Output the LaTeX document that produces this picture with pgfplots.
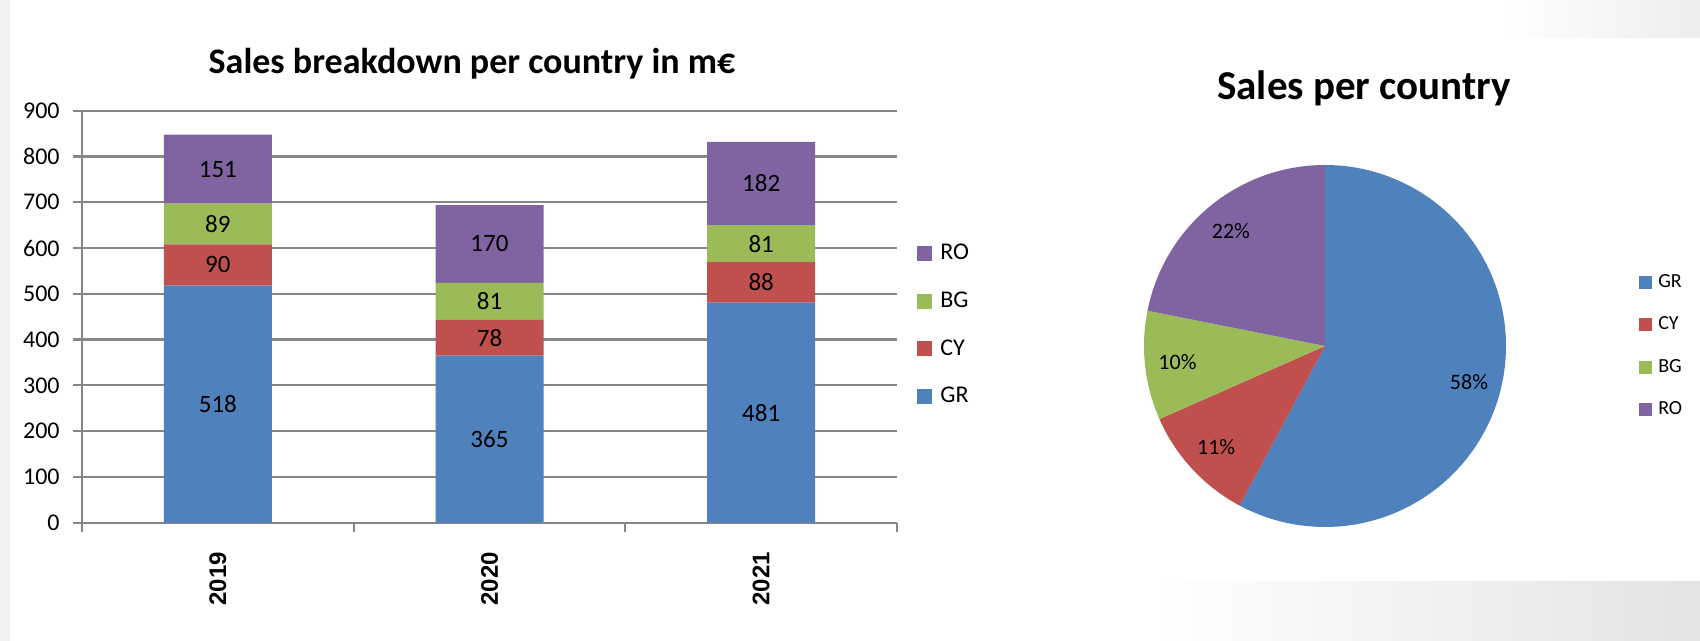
\documentclass[border=0pt]{standalone}
\usepackage{fontspec}
\setmainfont{Carlito}
\newfontfamily\yearfont{Liberation Sans}
\usepackage{pgfplots}
\pgfplotsset{compat=1.18}
\usepackage{pgfplotstable}

\definecolor{cGR}{HTML}{4F81BD}
\definecolor{cCY}{HTML}{C0504D}
\definecolor{cBG}{HTML}{9BBB59}
\definecolor{cRO}{HTML}{8064A2}
\definecolor{gridgray}{HTML}{868686}

\pgfplotstableread{
x year GR CY BG RO
0 2019 518 90 89 151
1 2020 365 78 81 170
2 2021 481 88 81 182
}\sales

\begin{document}
\begin{tikzpicture}
\fill[white] (0,0) rectangle (850pt,320.5pt);
\useasboundingbox (0,0) rectangle (850pt,320.5pt);
\fill[gray!10] (0,0) rectangle (5pt,320.5pt);
\shade[left color=white, right color=gray!14] (750pt,301.5pt) rectangle (850pt,320.5pt);
\shade[left color=white, right color=gray!22] (575pt,0pt) rectangle (850pt,29.5pt);

% titles
\node[anchor=base, font=\bfseries\fontsize{18}{20}\selectfont] at (236pt,283.5pt) {Sales breakdown per country in m€};
\node[anchor=base, font=\bfseries\fontsize{20.5}{22}\selectfont] at (682pt,270.5pt) {Sales per country};

% ---------- stacked bars ----------
\begin{axis}[
  at={(41pt,59.15pt)}, anchor=south west,
  scale only axis, width=407.5pt, height=206pt,
  xmin=-0.5, xmax=2.5, ymin=0, ymax=900,
  enlargelimits=false, clip=false,
  ybar stacked, bar width=54pt,
  axis x line*=bottom, axis y line*=left,
  axis line style={gridgray, line width=1.1pt, -},
  ytick={0,100,...,900},
  ymajorgrids, grid style={gridgray, line width=1.1pt},
  xtick={0,1,2}, xticklabels={2019,2020,2021},
  minor xtick={-0.5,0.5,1.5,2.5},
  tick align=outside,
  major tick length=4.5pt, minor tick length=4.5pt,
  ytick style={gridgray, line width=1.1pt},
  xtick style={draw=none},
  minor x tick style={draw=gridgray, line width=1.1pt},
  /pgf/number format/assume math mode=true,
  yticklabel style={font=\fontsize{12}{14}\selectfont, anchor=east, inner sep=0pt, xshift=-6.5pt},
  xticklabel shift=10pt,
  xticklabel style={rotate=90, anchor=east, inner sep=0pt,
    font=\yearfont\bfseries\fontsize{12}{14}\selectfont},
  visualization depends on=rawy\as\rawy,
  nodes near coords={\pgfmathprintnumber{\rawy}},
  every node near coord/.append style={anchor=center, text=black,
    font=\fontsize{12.5}{14}\selectfont},
  legend style={at={(axis description cs:1.0245,0.48)}, anchor=west,
    draw=none, fill=none, inner sep=0pt,
    font=\fontsize{12}{14}\selectfont,
    nodes={inner sep=0pt}, row sep=14.5pt, column sep=4pt},
  legend cell align=left,
  reverse legend,
  legend image code/.code={\fill[#1] (0pt,-3.75pt) rectangle (7.5pt,3.75pt);},
]
\addplot[fill=cGR, draw=none] table[x=x, y=GR]{\sales}; \addlegendentry{GR}
\addplot[fill=cCY, draw=none] table[x=x, y=CY]{\sales}; \addlegendentry{CY}
\addplot[fill=cBG, draw=none] table[x=x, y=BG]{\sales}; \addlegendentry{BG}
\addplot[fill=cRO, draw=none] table[x=x, y=RO]{\sales}; \addlegendentry{RO}
\end{axis}

% ---------- pie (2021 shares) ----------
\pgfplotstablegetelem{2}{GR}\of{\sales}\let\vGR\pgfplotsretval
\pgfplotstablegetelem{2}{CY}\of{\sales}\let\vCY\pgfplotsretval
\pgfplotstablegetelem{2}{BG}\of{\sales}\let\vBG\pgfplotsretval
\pgfplotstablegetelem{2}{RO}\of{\sales}\let\vRO\pgfplotsretval
\pgfmathsetmacro{\tot}{\vGR+\vCY+\vBG+\vRO}
\pgfmathsetmacro{\fGR}{\vGR/\tot}
\pgfmathsetmacro{\fCY}{\vCY/\tot}
\pgfmathsetmacro{\fBG}{\vBG/\tot}
\pgfmathsetmacro{\fRO}{\vRO/\tot}
\pgfmathsetmacro{\aGR}{90-360*\fGR}
\pgfmathsetmacro{\aCY}{\aGR-360*\fCY}
\pgfmathsetmacro{\aBG}{\aCY-360*\fBG}
\pgfmathsetmacro{\mGR}{(90+\aGR)/2}
\pgfmathsetmacro{\mCY}{(\aGR+\aCY)/2}
\pgfmathsetmacro{\mBG}{(\aCY+\aBG)/2}
\pgfmathsetmacro{\mRO}{(\aBG-270)/2}
\pgfmathsetmacro{\pGR}{int(round(100*\fGR))}
\pgfmathsetmacro{\pCY}{int(round(100*\fCY))}
\pgfmathsetmacro{\pBG}{int(round(100*\fBG))}
\pgfmathsetmacro{\pRO}{int(round(100*\fRO))}

\begin{axis}[
  at={(662.5pt,147.5pt)}, anchor=center,
  scale only axis, width=181pt, height=181pt,
  xmin=-1, xmax=1, ymin=-1, ymax=1,
  hide axis, clip=false,
  legend style={at={(axis description cs:1.367,0.5)}, anchor=west,
    draw=none, fill=none, inner sep=0pt,
    font=\fontsize{10}{12}\selectfont,
    nodes={inner sep=0pt}, row sep=13.1pt, column sep=3pt},
  legend cell align=left,
  legend image code/.code={\fill[#1] (0pt,-3.25pt) rectangle (6.5pt,3.25pt);},
]
\addplot[fill=cGR, draw=none, domain=\aGR:90, samples=120] ({cos(x)},{sin(x)}) -- (0,0) -- cycle; \addlegendentry{GR}
\addplot[fill=cCY, draw=none, domain=\aCY:\aGR, samples=40] ({cos(x)},{sin(x)}) -- (0,0) -- cycle; \addlegendentry{CY}
\addplot[fill=cBG, draw=none, domain=\aBG:\aCY, samples=40] ({cos(x)},{sin(x)}) -- (0,0) -- cycle; \addlegendentry{BG}
\addplot[fill=cRO, draw=none, domain=-270:\aBG, samples=60] ({cos(x)},{sin(x)}) -- (0,0) -- cycle; \addlegendentry{RO}
\node[font=\fontsize{11}{13}\selectfont] at (axis cs:{0.82*cos(\mGR)},{0.82*sin(\mGR)}) {\pGR\%};
\node[font=\fontsize{11}{13}\selectfont] at (axis cs:{0.82*cos(\mCY)},{0.82*sin(\mCY)}) {\pCY\%};
\node[font=\fontsize{11}{13}\selectfont] at (axis cs:{0.82*cos(\mBG)},{0.82*sin(\mBG)}) {\pBG\%};
\node[font=\fontsize{11}{13}\selectfont] at (axis cs:{0.82*cos(\mRO)},{0.82*sin(\mRO)}) {\pRO\%};
\end{axis}
\end{tikzpicture}
\end{document}
